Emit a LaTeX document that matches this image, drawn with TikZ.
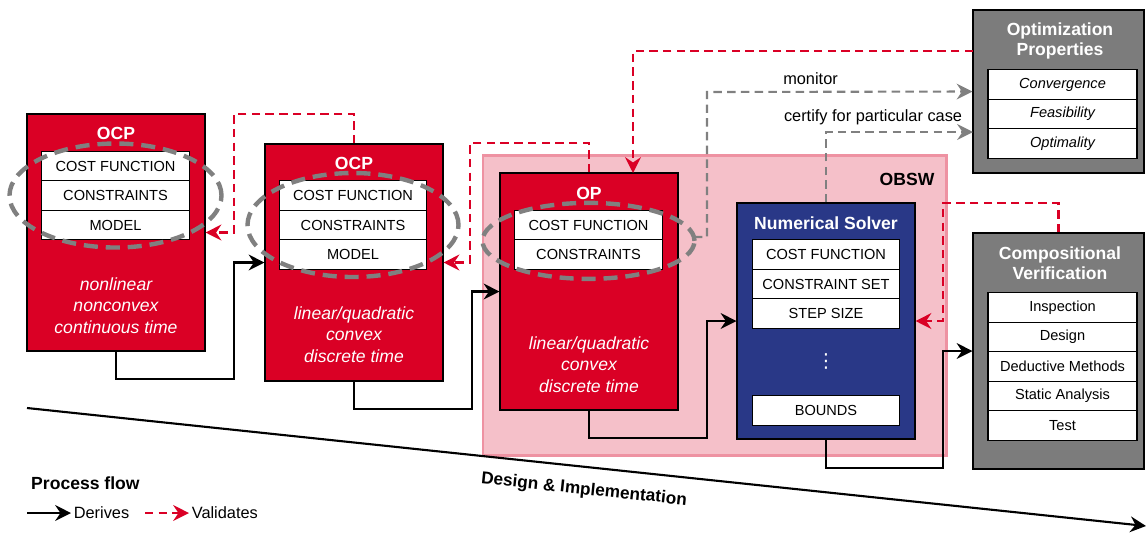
\documentclass[tikz,border=0pt]{standalone}
\usepackage{fontspec}
\setmainfont{Liberation Sans}
\newfontfamily\symbfont{DejaVu Sans}
\usetikzlibrary{arrows.meta}
\definecolor{ocpred}{RGB}{218,0,37}
\definecolor{solverblue}{RGB}{41,56,135}
\definecolor{propgray}{RGB}{124,124,124}
\definecolor{obswpink}{RGB}{245,192,201}
\definecolor{obswedge}{RGB}{238,146,162}
\definecolor{ringgray}{RGB}{128,128,128}
\begin{document}
\begin{tikzpicture}[x=0.2mm, y=-0.2mm,
	box/.style={draw=black, line width=0.6pt, inner sep=0pt, minimum width=35.6mm, minimum height=47.4mm},
	cell/.style={draw=black, fill=white, line width=0.7pt, inner sep=0pt, minimum width=29.5mm, minimum height=5.9mm, font=\fontsize{8.3}{10}\selectfont},
	pcell/.style={cell, font=\fontsize{8.3}{10}\selectfont\itshape},
	ttl/.style={text=white, align=center, font=\fontsize{10}{11.4}\selectfont\bfseries},
	prop/.style={text=white, align=center, font=\fontsize{10}{12.2}\selectfont\itshape},
	ring/.style={draw=ringgray, line width=2.5pt, dash pattern=on 8pt off 4.5pt},
	lbl/.style={text=black, font=\fontsize{9.3}{11}\selectfont},
	derives/.style={-{Stealth[length=9pt,width=9pt,inset=3pt]}, line width=1.2pt, black},
	validates/.style={-{Stealth[length=9pt,width=9pt,inset=3pt]}, line width=1.2pt, ocpred, dash pattern=on 4.8pt off 3pt},
	checks/.style={-{Stealth[length=9pt,width=9pt,inset=3pt]}, line width=1.2pt, ringgray, dash pattern=on 4.8pt off 3pt}]
	\useasboundingbox (0,0) rectangle (1146,534);

	% OBSW area
	\node[draw=obswedge, fill=obswpink, line width=1.7pt, inner sep=0pt, minimum width=92.6mm, minimum height=60mm] (obsw) at (714.5,305) {};
	\node[font=\fontsize{10}{12}\selectfont\bfseries] (obsw-t) at (907,179) {OBSW};

	% first OCP
	\node[box, fill=ocpred] (ocpa) at (116,232.5) {};
	\node[ttl] (ocpa-t) at (116,133) {OCP};
	\node[cell] (ocpa-1) at (115.5,166) {COST FUNCTION};
	\node[cell] (ocpa-2) at (115.5,195.5) {CONSTRAINTS};
	\node[cell] (ocpa-3) at (115.5,225) {MODEL};
	\node[prop] (ocpa-p) at (116,305.5) {nonlinear\\nonconvex\\continuous time};

	% second OCP
	\node[box, fill=ocpred] (ocpb) at (354,262.5) {};
	\node[ttl] (ocpb-t) at (354,163) {OCP};
	\node[cell] (ocpb-1) at (353,195.5) {COST FUNCTION};
	\node[cell] (ocpb-2) at (353,225) {CONSTRAINTS};
	\node[cell] (ocpb-3) at (353,254.5) {MODEL};
	\node[prop] (ocpb-p) at (354,334.5) {linear/quadratic\\convex\\discrete time};

	% OP
	\node[box, fill=ocpred] (op) at (589,291.5) {};
	\node[ttl] (op-t) at (589,193) {OP};
	\node[cell] (op-1) at (588.5,225.5) {COST FUNCTION};
	\node[cell] (op-2) at (588.5,254.5) {CONSTRAINTS};
	\node[prop] (op-p) at (589,364.5) {linear/quadratic\\convex\\discrete time};

	% numerical solver
	\node[box, fill=solverblue, minimum height=47.2mm] (ns) at (826,321) {};
	\node[ttl] (ns-t) at (826,223) {Numerical Solver};
	\node[cell] (ns-1) at (826,254.5) {COST FUNCTION};
	\node[cell] (ns-2) at (826,284) {CONSTRAINT SET};
	\node[cell] (ns-3) at (826,313.5) {STEP SIZE};
	\node[text=white, font=\symbfont\fontsize{11}{12}\selectfont] (ns-dots) at (826,361) {⋮};
	\node[cell] (ns-4) at (826,410.5) {BOUNDS};

	% optimization properties
	\node[box, fill=propgray, minimum width=34.2mm, minimum height=32.6mm] (optp) at (1058.5,91.5) {};
	\node[ttl] (optp-t) at (1060,41) {Optimization\\Properties};
	\node[pcell, minimum width=29.8mm] (optp-1) at (1062.5,84.5) {Convergence};
	\node[pcell, minimum width=29.8mm] (optp-2) at (1062.5,114) {Feasibility};
	\node[pcell, minimum width=29.8mm] (optp-3) at (1062.5,143.5) {Optimality};

	% compositional verification
	\node[box, fill=propgray, minimum width=34.2mm, minimum height=47.2mm] (cv) at (1058.5,351) {};
	\node[ttl] (cv-t) at (1060,263) {Compositional\\Verification};
	\node[cell, minimum width=29.8mm] (cv-1) at (1062.5,307.5) {Inspection};
	\node[cell, minimum width=29.8mm] (cv-2) at (1062.5,337) {Design};
	\node[cell, minimum width=29.8mm] (cv-3) at (1062.5,366.5) {Deductive Methods};
	\node[cell, minimum width=29.8mm] (cv-4) at (1062.5,396) {Static Analysis};
	\node[cell, minimum width=29.8mm] (cv-5) at (1062.5,425.5) {Test};

	% dashed rings
	\draw[ring] (ocpa-2) ellipse [x radius=21.2mm, y radius=10.4mm];
	\draw[ring] (ocpb-2) ellipse [x radius=21.1mm, y radius=10.4mm];
	\draw[ring] (op-1.south) ellipse [x radius=21.2mm, y radius=7.6mm];

	% derives
	\draw[derives] (ocpa.south) |- (234,379) |- (ocpb.west);
	\draw[derives] (ocpb.south) |- (472,409) |- (op.west);
	\draw[derives] (op.south) |- (707,438) |- (ns.west);
	\draw[derives] (ns.south) |- (943,468) |- (cv.west);

	% validates
	\coordinate (optout) at (973,51);
	\coordinate (opin) at (633,173);
	\draw[validates] (ocpb.north) |- (234,114) |- (ocpa.east);
	\draw[validates] (op.north) |- (470,143) |- (ocpb.east);
	\draw[validates] (optout) -| (opin);
	\draw[validates] (cv.north) |- (943,203) |- (ns.east);

	% monitor and certify
	\coordinate (mon) at (694,237);
	\coordinate (certin) at (973,132);
	\draw[checks] (mon) -| (707,92) -- (optp.west) node[pos=0.39, above, lbl] (mon-l) {monitor};
	\draw[checks] (ns.north) |- (certin) node[pos=0.66, above, lbl] (cert-l) {certify for particular case};

	% design axis
	\coordinate (dstart) at (27,408);
	\coordinate (dend) at (1146,526);
	\draw[derives] (dstart) -- (dend);
	\node[rotate=-6, font=\fontsize{9.8}{11}\selectfont\bfseries] (axis-l) at (584,490) {Design \& Implementation};

	% legend
	\node[anchor=west, font=\fontsize{10}{12}\selectfont\bfseries] (leg-t) at (25,483) {Process flow};
	\coordinate (lda) at (27,513);
	\coordinate (ldb) at (71,513);
	\coordinate (lva) at (145,513);
	\coordinate (lvb) at (189,513);
	\draw[derives] (lda) -- (ldb) node[right, inner sep=1pt, lbl] (leg-d) {Derives};
	\draw[validates] (lva) -- (lvb) node[right, inner sep=1pt, lbl] (leg-v) {Validates};
\end{tikzpicture}
\end{document}
